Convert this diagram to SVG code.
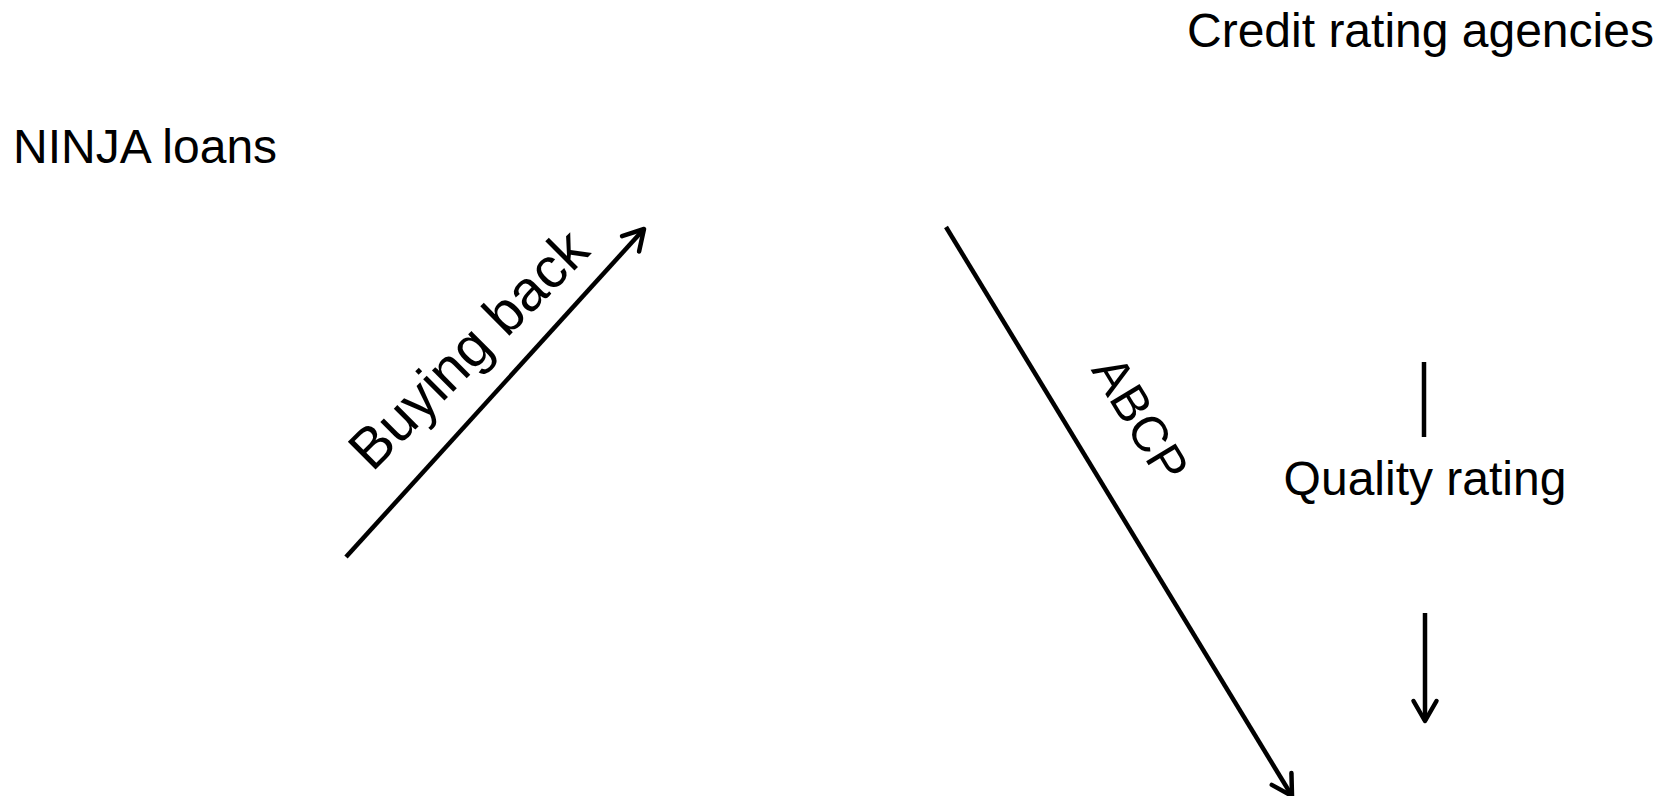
<svg xmlns="http://www.w3.org/2000/svg" width="1673" height="796" viewBox="0 0 1673 796">
<style>
text{font-family:"Liberation Sans",Arial,sans-serif;font-size:48px;fill:#000}
.c{stroke:#000;stroke-width:4.5;fill:none}
</style>
<defs>
<marker id="ah" markerUnits="userSpaceOnUse" viewBox="-26 -16 30 32" refX="0" refY="0" markerWidth="30" markerHeight="32" orient="auto" overflow="visible">
<path d="M-20,-11.5 L0,0 L-20,11.5" fill="none" stroke="#000" stroke-width="4.5" stroke-linecap="round" stroke-linejoin="round"/>
</marker>
</defs>
<rect width="1673" height="796" fill="#fff"/>
<g id="credit-rating-agencies"><text x="1187" y="47">Credit rating agencies</text></g>
<g id="ninja-loans"><text x="13" y="163">NINJA loans</text></g>
<g id="quality-rating"><text x="1425" y="495" text-anchor="middle">Quality rating</text></g>
<g id="connectors">
<line class="c" x1="346" y1="557" x2="644" y2="229" marker-end="url(#ah)"/>
<text x="482" y="363" text-anchor="middle" font-size="57" style="font-size:57px" transform="rotate(-45 482 363)">Buying back</text>
<line class="c" x1="946" y1="227" x2="1292" y2="796" marker-end="url(#ah)"/>
<text x="1126" y="428" text-anchor="middle" style="font-size:50px" transform="rotate(58.7 1126 428)">ABCP</text>
<line class="c" x1="1424" y1="362" x2="1424" y2="437"/>
<line class="c" x1="1425" y1="613" x2="1425" y2="721" marker-end="url(#ah)"/>
</g>
</svg>
